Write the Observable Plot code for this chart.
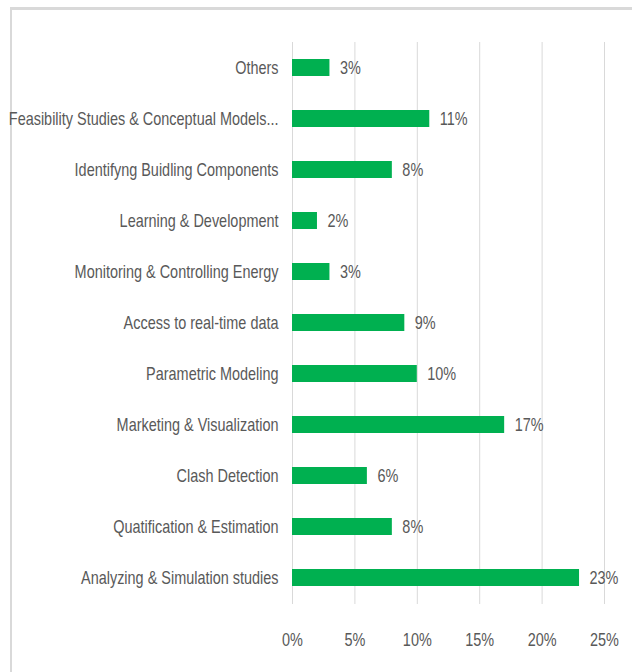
<!DOCTYPE html>
<html>
<head>
<meta charset="utf-8">
<script src="https://cdn.jsdelivr.net/npm/d3@7"></script>
<script src="https://cdn.jsdelivr.net/npm/@observablehq/plot@0.6"></script>
<style>
  html, body { margin: 0; padding: 0; background: #fff; }
  #wrap { position: relative; width: 632px; height: 672px; overflow: hidden; }
  #frame { position: absolute; left: 10px; top: 7px; width: 700px; height: 700px;
           border-left: 2px solid #d9d9d9; border-top: 3px solid #d9d9d9; }
  #chart { position: absolute; left: 0; top: 0; }
</style>
</head>
<body>
<div id="wrap"><div id="frame"></div><div id="chart"></div></div>
<script>
const categories = [
  "Others",
  "Feasibility Studies & Conceptual Models...",
  "Identifyng Buidling Components",
  "Learning & Development",
  "Monitoring & Controlling Energy",
  "Access to real-time data",
  "Parametric Modeling",
  "Marketing & Visualization",
  "Clash Detection",
  "Quatification & Estimation",
  "Analyzing & Simulation studies"
];
const shares = [0.03, 0.11, 0.08, 0.02, 0.03, 0.09, 0.10, 0.17, 0.06, 0.08, 0.23];
const xTicks = [0, 0.05, 0.10, 0.15, 0.20, 0.25];

const data = categories.map((c, i) => ({category: c, value: shares[i]}));
const pct = d3.format(".0%");
const FS = 19;

const chart = Plot.plot({
  width: 632,
  height: 672,
  marginLeft: 292,
  marginRight: 28,
  marginTop: 42,
  marginBottom: 68,
  style: {fontSize: FS + "px", color: "#595959", background: "transparent", fontFamily: "'Liberation Sans', Arial, sans-serif"},
  x: {domain: [0, 0.25], ticks: xTicks, tickFormat: pct, label: null},
  y: {domain: categories, padding: 0.66, paddingOuter: 0.33, label: null},
  marks: [
    Plot.gridX(xTicks, {stroke: "#d9d9d9", strokeOpacity: 1, strokeWidth: 1}),
    Plot.barX(data, {x: "value", y: "category", fill: "#00B050"}),
    Plot.text(data, {x: "value", y: "category", text: d => pct(d.value), textAnchor: "start", dx: 10, fill: "#595959", fontSize: FS}),
    Plot.axisX(xTicks, {tickSize: 0, tickPadding: 28, tickFormat: pct, fontSize: FS, fill: "#595959", label: null}),
    Plot.axisY({tickSize: 0, tickPadding: 14, fontSize: FS, fill: "#595959", label: null})
  ]
});
document.getElementById("chart").appendChild(chart);
// condense the glyphs horizontally to mimic the narrow look of the reference
chart.querySelectorAll("text").forEach(t => {
  const w = t.getComputedTextLength();
  if (w > 0) {
    t.setAttribute("textLength", (w * 0.76).toFixed(1));
    t.setAttribute("lengthAdjust", "spacingAndGlyphs");
  }
});
</script>
</body>
</html>
